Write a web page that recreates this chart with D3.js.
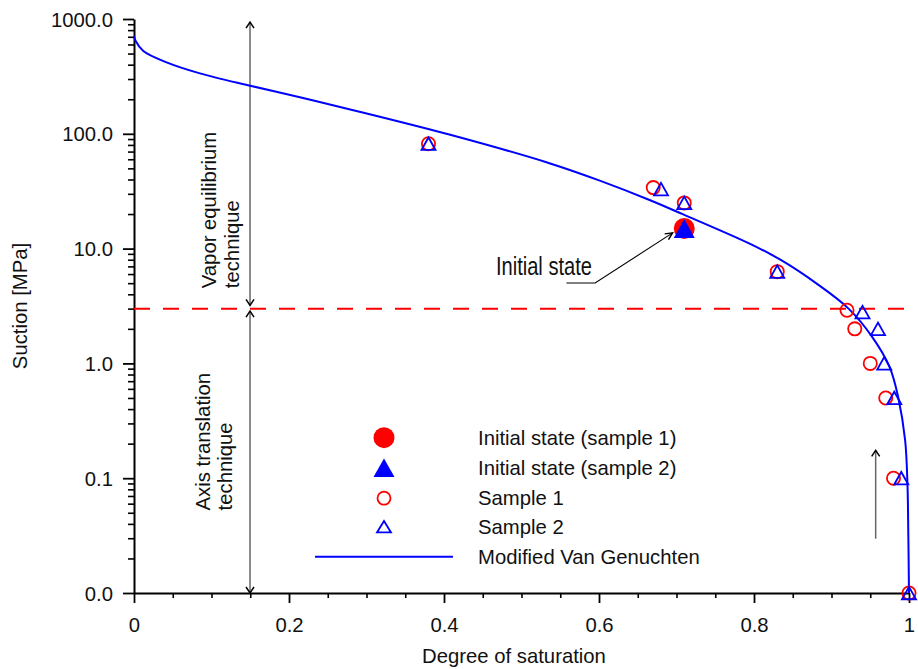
<!DOCTYPE html>
<html>
<head>
<meta charset="utf-8">
<script src="https://cdn.jsdelivr.net/npm/d3@7"></script>
<style>
  html, body { margin: 0; padding: 0; background: #fff; }
  svg { display: block; font-family: "Liberation Sans", Arial, sans-serif; }
</style>
</head>
<body>
<svg id="chart" width="918" height="669"></svg>
<script>
// ---------------- data ----------------
const xTicks = [0, 0.2, 0.4, 0.6, 0.8, 1];
const xTickLabels = ["0", "0.2", "0.4", "0.6", "0.8", "1"];
const yTicks = [1000, 100, 10, 1, 0.1, 0.01];
const yTickLabels = ["1000.0", "100.0", "10.0", "1.0", "0.1", "0.0"];

// Modified Van Genuchten curve
const curveS = [0, 0.002, 0.012, 0.042, 0.085, 0.15, 0.214, 0.279, 0.408, 0.537, 0.601, 0.666, 0.708, 0.795, 0.834, 0.88, 0.922, 0.952, 0.975, 0.986, 0.995, 0.998, 0.9991, 1.0];
const curveSuction = [711, 646, 526, 419, 336, 262, 208, 163, 98, 55.2, 39.1, 26.4, 19.95, 11.0, 8.0, 5.0, 3.0, 1.72, 0.93, 0.51, 0.214, 0.0895, 0.0328, 0.01];

// Sample 1 (open red circles)
const s1S = [0.38, 0.67, 0.71, 0.83, 0.92, 0.93, 0.95, 0.97, 0.98, 1.0];
const s1Suction = [82, 34, 25, 6.3, 2.9, 2.0, 1.0, 0.5, 0.1, 0.01];

// Sample 2 (open blue triangles)
const s2S = [0.38, 0.68, 0.71, 0.83, 0.94, 0.96, 0.968, 0.981, 0.99, 1.0];
const s2Suction = [82, 33, 25, 6.3, 2.8, 2.0, 1.0, 0.5, 0.1, 0.01];

// Initial state
const initS = [0.71];
const initSuction = [15];

// Technique boundary
const boundarySuction = 3;

const legendLabels = ["Initial state (sample 1)", "Initial state (sample 2)", "Sample 1", "Sample 2", "Modified Van Genuchten"];

// ---------------- layout ----------------
const RED = "#ff0000", BLUE = "#0000ff";
const svg = d3.select("#chart");
const x = d3.scaleLinear().domain([0, 1]).range([134, 909]);
const y = d3.scaleLog().domain([0.01, 1000]).range([593, 19]);
const FS = 20.3;

// ---------------- axes ----------------
const xMinor = d3.range(0, 1.0001, 0.05).filter(v => !xTicks.some(t => Math.abs(t - v) < 1e-6));
svg.append("g").attr("transform", "translate(0,593)")
  .call(d3.axisBottom(x).tickValues(xMinor).tickSize(5).tickFormat(""))
  .call(g => g.select(".domain").remove())
  .call(g => g.selectAll("line").attr("stroke", "#000").attr("stroke-width", 1.6));
const xAxis = svg.append("g").attr("transform", "translate(0,593)")
  .call(d3.axisBottom(x).tickValues(xTicks).tickSize(10).tickSizeOuter(0)
    .tickFormat((d, i) => xTickLabels[i]));
xAxis.select(".domain").attr("stroke", "#000").attr("stroke-width", 2);
xAxis.selectAll("line").attr("stroke", "#000").attr("stroke-width", 1.8);
xAxis.selectAll("text").attr("font-size", FS).attr("font-family", "Liberation Sans, Arial, sans-serif")
  .attr("fill", "#111").attr("y", 0).attr("dy", 0)
  .attr("transform", "translate(0,39)");

const yMinor = [];
[0.01, 0.1, 1, 10, 100].forEach(d => { for (let k = 2; k <= 9; k++) yMinor.push(d * k); });
svg.append("g").attr("transform", "translate(134,0)")
  .call(d3.axisLeft(y).tickValues(yMinor).tickSize(6).tickFormat(""))
  .call(g => g.select(".domain").remove())
  .call(g => g.selectAll("line").attr("stroke", "#000").attr("stroke-width", 1.6));
const yAxis = svg.append("g").attr("transform", "translate(134,0)")
  .call(d3.axisLeft(y).tickValues(yTicks).tickSize(11).tickSizeOuter(0)
    .tickFormat((d, i) => yTickLabels[i]));
yAxis.select(".domain").attr("stroke", "#000").attr("stroke-width", 2);
yAxis.selectAll("line").attr("stroke", "#000").attr("stroke-width", 1.8);
yAxis.selectAll("text").attr("font-size", FS).attr("font-family", "Liberation Sans, Arial, sans-serif")
  .attr("fill", "#111").attr("x", -21).attr("dy", "0.35em");

// axis titles
svg.append("text").attr("x", 514).attr("y", 663).attr("text-anchor", "middle")
  .attr("font-size", FS).attr("fill", "#111").text("Degree of saturation");
svg.append("text").attr("transform", "translate(27,306) rotate(-90)").attr("text-anchor", "middle")
  .attr("font-size", FS).attr("fill", "#111").text("Suction [MPa]");

// ---------------- boundary dashed line ----------------
svg.append("line")
  .attr("x1", x(0)).attr("x2", x(1) + 1)
  .attr("y1", y(boundarySuction)).attr("y2", y(boundarySuction))
  .attr("stroke", RED).attr("stroke-width", 2).attr("stroke-dasharray", "16,13");

// ---------------- annotation arrows ----------------
function chevron(px, py, dir) {
  const s = dir === "up" ? 1 : -1;
  return `M${px - 4},${py + 6 * s} L${px},${py} L${px + 4},${py + 6 * s}`;
}
function vArrow(S, topVal, botVal, both) {
  const px = x(S), y1 = y(topVal), y2 = y(botVal);
  svg.append("line").attr("x1", px).attr("x2", px).attr("y1", y1).attr("y2", y2)
    .attr("stroke", "#666").attr("stroke-width", 1.5);
  svg.append("path").attr("d", chevron(px, y1, "up")).attr("fill", "none").attr("stroke", "#000").attr("stroke-width", 1.5);
  if (both) svg.append("path").attr("d", chevron(px, y2, "down")).attr("fill", "none").attr("stroke", "#000").attr("stroke-width", 1.5);
}
vArrow(0.1497, 940, 3.2, true);
vArrow(0.1497, 2.85, 0.01, true);
vArrow(0.957, 0.175, 0.0297, false);

function rotLabel(S, startVal, lines, lineGap) {
  const g = svg.append("text")
    .attr("transform", `translate(${x(S)},${y(startVal)}) rotate(-90)`)
    .attr("font-size", FS).attr("fill", "#111");
  lines.forEach((t, i) => g.append("tspan").attr("x", 0).attr("y", i * lineGap).text(t));
}
rotLabel(0.106, 4.52, ["Vapor equilibrium", "technique"], 22.5);
rotLabel(0.0983, 0.0524, ["Axis translation", "technique"], 21.5);

// Initial state label + leader
svg.append("text").attr("x", x(0.467)).attr("y", y(5.86))
  .attr("font-size", 25).attr("fill", "#111")
  .attr("textLength", 96).attr("lengthAdjust", "spacingAndGlyphs")
  .text("Initial state");
{
  const p0 = [x(0.558), y(5.02)], p1 = [x(0.595), y(5.02)], p2 = [x(0.695), y(13.7)];
  svg.append("path").attr("d", `M${p0} L${p1} L${p2}`).attr("fill", "none")
    .attr("stroke", "#000").attr("stroke-width", 1.1);
  const ang = Math.atan2(p2[1] - p1[1], p2[0] - p1[0]);
  const L = 8, W = 0.45;
  const a1 = [p2[0] - L * Math.cos(ang - W), p2[1] - L * Math.sin(ang - W)];
  const a2 = [p2[0] - L * Math.cos(ang + W), p2[1] - L * Math.sin(ang + W)];
  svg.append("path").attr("d", `M${a1} L${p2} L${a2}`).attr("fill", "none")
    .attr("stroke", "#000").attr("stroke-width", 1.4);
}

// ---------------- curve ----------------
const curveData = curveS.map((s, i) => [s, curveSuction[i]]);
svg.append("path").datum(curveData)
  .attr("d", d3.line().x(d => x(d[0])).y(d => y(d[1])).curve(d3.curveCatmullRom.alpha(0.5)))
  .attr("fill", "none").attr("stroke", BLUE).attr("stroke-width", 2);

// ---------------- markers ----------------
function triPath(cx, cy, w, h) {
  return `M${cx - w / 2},${cy + h / 2} L${cx + w / 2},${cy + h / 2} L${cx},${cy - h / 2} Z`;
}
const s1 = s1S.map((s, i) => [s, s1Suction[i]]);
const s2 = s2S.map((s, i) => [s, s2Suction[i]]);
svg.append("g").selectAll("circle").data(s1).join("circle")
  .attr("cx", d => x(d[0])).attr("cy", d => y(d[1])).attr("r", 6.6)
  .attr("fill", "none").attr("stroke", RED).attr("stroke-width", 1.8);
svg.append("g").selectAll("path").data(s2).join("path")
  .attr("d", d => triPath(x(d[0]), y(d[1]), 14, 12.5))
  .attr("fill", "none").attr("stroke", BLUE).attr("stroke-width", 1.8);

const init = initS.map((s, i) => [s, initSuction[i]]);
svg.append("g").selectAll("circle").data(init).join("circle")
  .attr("cx", d => x(d[0])).attr("cy", d => y(d[1])).attr("r", 10.5).attr("fill", RED);
svg.append("g").selectAll("path").data(init).join("path")
  .attr("d", d => triPath(x(d[0]), y(d[1]), 21, 19)).attr("fill", BLUE);

// ---------------- legend ----------------
const lgX = 384, lgTextX = 478, lgY0 = 437.7, lgDy = [0, 30, 60.5, 89, 119];
const lg = svg.append("g");
lg.append("circle").attr("cx", lgX).attr("cy", lgY0 + lgDy[0]).attr("r", 10.5).attr("fill", RED);
lg.append("path").attr("d", triPath(lgX, lgY0 + lgDy[1], 21, 18.5)).attr("fill", BLUE);
lg.append("circle").attr("cx", lgX).attr("cy", lgY0 + lgDy[2]).attr("r", 6.5)
  .attr("fill", "none").attr("stroke", RED).attr("stroke-width", 1.8);
lg.append("path").attr("d", triPath(lgX, lgY0 + lgDy[3], 14, 11.5))
  .attr("fill", "none").attr("stroke", BLUE).attr("stroke-width", 1.8);
lg.append("line").attr("x1", 315).attr("x2", 453).attr("y1", lgY0 + lgDy[4]).attr("y2", lgY0 + lgDy[4])
  .attr("stroke", BLUE).attr("stroke-width", 2);
legendLabels.forEach((t, i) => {
  lg.append("text").attr("x", lgTextX).attr("y", lgY0 + lgDy[i]).attr("dy", "0.35em")
    .attr("font-size", FS).attr("fill", "#111").text(t);
});
</script>
</body>
</html>
